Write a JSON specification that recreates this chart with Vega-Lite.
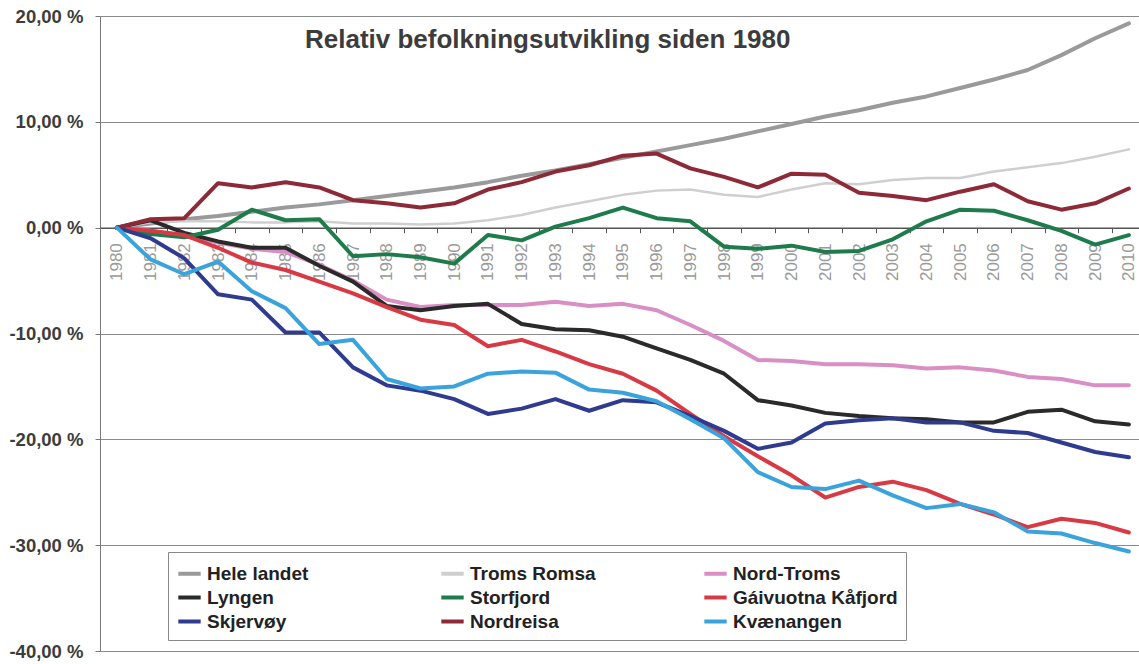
{
  "$schema": "https://vega.github.io/schema/vega-lite/v6.json",
  "autosize": "none",
  "width": 1039,
  "height": 635,
  "padding": {"left": 100, "top": 16, "right": 0, "bottom": 13},
  "background": "#ffffff",
  "title": {
    "text": "Relativ befolkningsutvikling siden 1980",
    "anchor": "start",
    "frame": "group",
    "dx": 205,
    "dy": 50,
    "fontSize": 26,
    "font": "Liberation Sans",
    "fontWeight": "bold",
    "color": "#3c3c3c"
  },
  "config": {"view": {"stroke": null}},
  "data": {
    "values": [
      {"year":1980,"series":"Hele landet","value":0},{"year":1981,"series":"Hele landet","value":0.4},{"year":1982,"series":"Hele landet","value":0.8},{"year":1983,"series":"Hele landet","value":1.1},{"year":1984,"series":"Hele landet","value":1.5},{"year":1985,"series":"Hele landet","value":1.9},{"year":1986,"series":"Hele landet","value":2.2},{"year":1987,"series":"Hele landet","value":2.6},{"year":1988,"series":"Hele landet","value":3.0},{"year":1989,"series":"Hele landet","value":3.4},{"year":1990,"series":"Hele landet","value":3.8},{"year":1991,"series":"Hele landet","value":4.3},{"year":1992,"series":"Hele landet","value":4.9},{"year":1993,"series":"Hele landet","value":5.4},{"year":1994,"series":"Hele landet","value":6.0},{"year":1995,"series":"Hele landet","value":6.6},{"year":1996,"series":"Hele landet","value":7.2},{"year":1997,"series":"Hele landet","value":7.8},{"year":1998,"series":"Hele landet","value":8.4},{"year":1999,"series":"Hele landet","value":9.1},{"year":2000,"series":"Hele landet","value":9.8},{"year":2001,"series":"Hele landet","value":10.5},{"year":2002,"series":"Hele landet","value":11.1},{"year":2003,"series":"Hele landet","value":11.8},{"year":2004,"series":"Hele landet","value":12.4},{"year":2005,"series":"Hele landet","value":13.2},{"year":2006,"series":"Hele landet","value":14.0},{"year":2007,"series":"Hele landet","value":14.9},{"year":2008,"series":"Hele landet","value":16.3},{"year":2009,"series":"Hele landet","value":17.9},{"year":2010,"series":"Hele landet","value":19.3},
      {"year":1980,"series":"Troms Romsa","value":0},{"year":1981,"series":"Troms Romsa","value":0.5},{"year":1982,"series":"Troms Romsa","value":0.6},{"year":1983,"series":"Troms Romsa","value":0.6},{"year":1984,"series":"Troms Romsa","value":0.5},{"year":1985,"series":"Troms Romsa","value":0.5},{"year":1986,"series":"Troms Romsa","value":0.6},{"year":1987,"series":"Troms Romsa","value":0.4},{"year":1988,"series":"Troms Romsa","value":0.4},{"year":1989,"series":"Troms Romsa","value":0.3},{"year":1990,"series":"Troms Romsa","value":0.4},{"year":1991,"series":"Troms Romsa","value":0.7},{"year":1992,"series":"Troms Romsa","value":1.2},{"year":1993,"series":"Troms Romsa","value":1.9},{"year":1994,"series":"Troms Romsa","value":2.5},{"year":1995,"series":"Troms Romsa","value":3.1},{"year":1996,"series":"Troms Romsa","value":3.5},{"year":1997,"series":"Troms Romsa","value":3.6},{"year":1998,"series":"Troms Romsa","value":3.1},{"year":1999,"series":"Troms Romsa","value":2.9},{"year":2000,"series":"Troms Romsa","value":3.6},{"year":2001,"series":"Troms Romsa","value":4.2},{"year":2002,"series":"Troms Romsa","value":4.1},{"year":2003,"series":"Troms Romsa","value":4.5},{"year":2004,"series":"Troms Romsa","value":4.7},{"year":2005,"series":"Troms Romsa","value":4.7},{"year":2006,"series":"Troms Romsa","value":5.3},{"year":2007,"series":"Troms Romsa","value":5.7},{"year":2008,"series":"Troms Romsa","value":6.1},{"year":2009,"series":"Troms Romsa","value":6.7},{"year":2010,"series":"Troms Romsa","value":7.4},
      {"year":1980,"series":"Nord-Troms","value":0},{"year":1981,"series":"Nord-Troms","value":-0.3},{"year":1982,"series":"Nord-Troms","value":-0.8},{"year":1983,"series":"Nord-Troms","value":-1.4},{"year":1984,"series":"Nord-Troms","value":-2.0},{"year":1985,"series":"Nord-Troms","value":-2.3},{"year":1986,"series":"Nord-Troms","value":-3.5},{"year":1987,"series":"Nord-Troms","value":-5.0},{"year":1988,"series":"Nord-Troms","value":-6.8},{"year":1989,"series":"Nord-Troms","value":-7.5},{"year":1990,"series":"Nord-Troms","value":-7.3},{"year":1991,"series":"Nord-Troms","value":-7.3},{"year":1992,"series":"Nord-Troms","value":-7.3},{"year":1993,"series":"Nord-Troms","value":-7.0},{"year":1994,"series":"Nord-Troms","value":-7.4},{"year":1995,"series":"Nord-Troms","value":-7.2},{"year":1996,"series":"Nord-Troms","value":-7.8},{"year":1997,"series":"Nord-Troms","value":-9.2},{"year":1998,"series":"Nord-Troms","value":-10.7},{"year":1999,"series":"Nord-Troms","value":-12.5},{"year":2000,"series":"Nord-Troms","value":-12.6},{"year":2001,"series":"Nord-Troms","value":-12.9},{"year":2002,"series":"Nord-Troms","value":-12.9},{"year":2003,"series":"Nord-Troms","value":-13.0},{"year":2004,"series":"Nord-Troms","value":-13.3},{"year":2005,"series":"Nord-Troms","value":-13.2},{"year":2006,"series":"Nord-Troms","value":-13.5},{"year":2007,"series":"Nord-Troms","value":-14.1},{"year":2008,"series":"Nord-Troms","value":-14.3},{"year":2009,"series":"Nord-Troms","value":-14.9},{"year":2010,"series":"Nord-Troms","value":-14.9},
      {"year":1980,"series":"Lyngen","value":0},{"year":1981,"series":"Lyngen","value":0.7},{"year":1982,"series":"Lyngen","value":-0.5},{"year":1983,"series":"Lyngen","value":-1.3},{"year":1984,"series":"Lyngen","value":-1.9},{"year":1985,"series":"Lyngen","value":-1.9},{"year":1986,"series":"Lyngen","value":-3.6},{"year":1987,"series":"Lyngen","value":-5.1},{"year":1988,"series":"Lyngen","value":-7.4},{"year":1989,"series":"Lyngen","value":-7.8},{"year":1990,"series":"Lyngen","value":-7.4},{"year":1991,"series":"Lyngen","value":-7.2},{"year":1992,"series":"Lyngen","value":-9.1},{"year":1993,"series":"Lyngen","value":-9.6},{"year":1994,"series":"Lyngen","value":-9.7},{"year":1995,"series":"Lyngen","value":-10.3},{"year":1996,"series":"Lyngen","value":-11.4},{"year":1997,"series":"Lyngen","value":-12.5},{"year":1998,"series":"Lyngen","value":-13.8},{"year":1999,"series":"Lyngen","value":-16.3},{"year":2000,"series":"Lyngen","value":-16.8},{"year":2001,"series":"Lyngen","value":-17.5},{"year":2002,"series":"Lyngen","value":-17.8},{"year":2003,"series":"Lyngen","value":-18.0},{"year":2004,"series":"Lyngen","value":-18.1},{"year":2005,"series":"Lyngen","value":-18.4},{"year":2006,"series":"Lyngen","value":-18.4},{"year":2007,"series":"Lyngen","value":-17.4},{"year":2008,"series":"Lyngen","value":-17.2},{"year":2009,"series":"Lyngen","value":-18.3},{"year":2010,"series":"Lyngen","value":-18.6},
      {"year":1980,"series":"Storfjord","value":0},{"year":1981,"series":"Storfjord","value":-0.6},{"year":1982,"series":"Storfjord","value":-0.9},{"year":1983,"series":"Storfjord","value":-0.2},{"year":1984,"series":"Storfjord","value":1.7},{"year":1985,"series":"Storfjord","value":0.7},{"year":1986,"series":"Storfjord","value":0.8},{"year":1987,"series":"Storfjord","value":-2.7},{"year":1988,"series":"Storfjord","value":-2.5},{"year":1989,"series":"Storfjord","value":-2.8},{"year":1990,"series":"Storfjord","value":-3.4},{"year":1991,"series":"Storfjord","value":-0.7},{"year":1992,"series":"Storfjord","value":-1.2},{"year":1993,"series":"Storfjord","value":0.1},{"year":1994,"series":"Storfjord","value":0.9},{"year":1995,"series":"Storfjord","value":1.9},{"year":1996,"series":"Storfjord","value":0.9},{"year":1997,"series":"Storfjord","value":0.6},{"year":1998,"series":"Storfjord","value":-1.8},{"year":1999,"series":"Storfjord","value":-2.0},{"year":2000,"series":"Storfjord","value":-1.7},{"year":2001,"series":"Storfjord","value":-2.3},{"year":2002,"series":"Storfjord","value":-2.2},{"year":2003,"series":"Storfjord","value":-1.1},{"year":2004,"series":"Storfjord","value":0.6},{"year":2005,"series":"Storfjord","value":1.7},{"year":2006,"series":"Storfjord","value":1.6},{"year":2007,"series":"Storfjord","value":0.7},{"year":2008,"series":"Storfjord","value":-0.3},{"year":2009,"series":"Storfjord","value":-1.6},{"year":2010,"series":"Storfjord","value":-0.7},
      {"year":1980,"series":"Gáivuotna Kåfjord","value":0},{"year":1981,"series":"Gáivuotna Kåfjord","value":-0.3},{"year":1982,"series":"Gáivuotna Kåfjord","value":-0.7},{"year":1983,"series":"Gáivuotna Kåfjord","value":-1.9},{"year":1984,"series":"Gáivuotna Kåfjord","value":-3.3},{"year":1985,"series":"Gáivuotna Kåfjord","value":-4.0},{"year":1986,"series":"Gáivuotna Kåfjord","value":-5.1},{"year":1987,"series":"Gáivuotna Kåfjord","value":-6.2},{"year":1988,"series":"Gáivuotna Kåfjord","value":-7.5},{"year":1989,"series":"Gáivuotna Kåfjord","value":-8.7},{"year":1990,"series":"Gáivuotna Kåfjord","value":-9.2},{"year":1991,"series":"Gáivuotna Kåfjord","value":-11.2},{"year":1992,"series":"Gáivuotna Kåfjord","value":-10.6},{"year":1993,"series":"Gáivuotna Kåfjord","value":-11.7},{"year":1994,"series":"Gáivuotna Kåfjord","value":-12.9},{"year":1995,"series":"Gáivuotna Kåfjord","value":-13.8},{"year":1996,"series":"Gáivuotna Kåfjord","value":-15.4},{"year":1997,"series":"Gáivuotna Kåfjord","value":-17.6},{"year":1998,"series":"Gáivuotna Kåfjord","value":-19.7},{"year":1999,"series":"Gáivuotna Kåfjord","value":-21.6},{"year":2000,"series":"Gáivuotna Kåfjord","value":-23.4},{"year":2001,"series":"Gáivuotna Kåfjord","value":-25.5},{"year":2002,"series":"Gáivuotna Kåfjord","value":-24.5},{"year":2003,"series":"Gáivuotna Kåfjord","value":-24.0},{"year":2004,"series":"Gáivuotna Kåfjord","value":-24.8},{"year":2005,"series":"Gáivuotna Kåfjord","value":-26.1},{"year":2006,"series":"Gáivuotna Kåfjord","value":-27.1},{"year":2007,"series":"Gáivuotna Kåfjord","value":-28.3},{"year":2008,"series":"Gáivuotna Kåfjord","value":-27.5},{"year":2009,"series":"Gáivuotna Kåfjord","value":-27.9},{"year":2010,"series":"Gáivuotna Kåfjord","value":-28.8},
      {"year":1980,"series":"Skjervøy","value":0},{"year":1981,"series":"Skjervøy","value":-1.0},{"year":1982,"series":"Skjervøy","value":-2.9},{"year":1983,"series":"Skjervøy","value":-6.3},{"year":1984,"series":"Skjervøy","value":-6.8},{"year":1985,"series":"Skjervøy","value":-9.9},{"year":1986,"series":"Skjervøy","value":-9.9},{"year":1987,"series":"Skjervøy","value":-13.2},{"year":1988,"series":"Skjervøy","value":-14.9},{"year":1989,"series":"Skjervøy","value":-15.4},{"year":1990,"series":"Skjervøy","value":-16.2},{"year":1991,"series":"Skjervøy","value":-17.6},{"year":1992,"series":"Skjervøy","value":-17.1},{"year":1993,"series":"Skjervøy","value":-16.2},{"year":1994,"series":"Skjervøy","value":-17.3},{"year":1995,"series":"Skjervøy","value":-16.3},{"year":1996,"series":"Skjervøy","value":-16.5},{"year":1997,"series":"Skjervøy","value":-17.8},{"year":1998,"series":"Skjervøy","value":-19.2},{"year":1999,"series":"Skjervøy","value":-20.9},{"year":2000,"series":"Skjervøy","value":-20.3},{"year":2001,"series":"Skjervøy","value":-18.5},{"year":2002,"series":"Skjervøy","value":-18.2},{"year":2003,"series":"Skjervøy","value":-18.0},{"year":2004,"series":"Skjervøy","value":-18.4},{"year":2005,"series":"Skjervøy","value":-18.4},{"year":2006,"series":"Skjervøy","value":-19.2},{"year":2007,"series":"Skjervøy","value":-19.4},{"year":2008,"series":"Skjervøy","value":-20.3},{"year":2009,"series":"Skjervøy","value":-21.2},{"year":2010,"series":"Skjervøy","value":-21.7},
      {"year":1980,"series":"Nordreisa","value":0},{"year":1981,"series":"Nordreisa","value":0.8},{"year":1982,"series":"Nordreisa","value":0.9},{"year":1983,"series":"Nordreisa","value":4.2},{"year":1984,"series":"Nordreisa","value":3.8},{"year":1985,"series":"Nordreisa","value":4.3},{"year":1986,"series":"Nordreisa","value":3.8},{"year":1987,"series":"Nordreisa","value":2.6},{"year":1988,"series":"Nordreisa","value":2.3},{"year":1989,"series":"Nordreisa","value":1.9},{"year":1990,"series":"Nordreisa","value":2.3},{"year":1991,"series":"Nordreisa","value":3.6},{"year":1992,"series":"Nordreisa","value":4.3},{"year":1993,"series":"Nordreisa","value":5.3},{"year":1994,"series":"Nordreisa","value":5.9},{"year":1995,"series":"Nordreisa","value":6.8},{"year":1996,"series":"Nordreisa","value":7.0},{"year":1997,"series":"Nordreisa","value":5.6},{"year":1998,"series":"Nordreisa","value":4.8},{"year":1999,"series":"Nordreisa","value":3.8},{"year":2000,"series":"Nordreisa","value":5.1},{"year":2001,"series":"Nordreisa","value":5.0},{"year":2002,"series":"Nordreisa","value":3.3},{"year":2003,"series":"Nordreisa","value":3.0},{"year":2004,"series":"Nordreisa","value":2.6},{"year":2005,"series":"Nordreisa","value":3.4},{"year":2006,"series":"Nordreisa","value":4.1},{"year":2007,"series":"Nordreisa","value":2.5},{"year":2008,"series":"Nordreisa","value":1.7},{"year":2009,"series":"Nordreisa","value":2.3},{"year":2010,"series":"Nordreisa","value":3.7},
      {"year":1980,"series":"Kvænangen","value":0},{"year":1981,"series":"Kvænangen","value":-3.0},{"year":1982,"series":"Kvænangen","value":-4.4},{"year":1983,"series":"Kvænangen","value":-3.2},{"year":1984,"series":"Kvænangen","value":-6.0},{"year":1985,"series":"Kvænangen","value":-7.6},{"year":1986,"series":"Kvænangen","value":-11.0},{"year":1987,"series":"Kvænangen","value":-10.6},{"year":1988,"series":"Kvænangen","value":-14.3},{"year":1989,"series":"Kvænangen","value":-15.2},{"year":1990,"series":"Kvænangen","value":-15.0},{"year":1991,"series":"Kvænangen","value":-13.8},{"year":1992,"series":"Kvænangen","value":-13.6},{"year":1993,"series":"Kvænangen","value":-13.7},{"year":1994,"series":"Kvænangen","value":-15.3},{"year":1995,"series":"Kvænangen","value":-15.6},{"year":1996,"series":"Kvænangen","value":-16.4},{"year":1997,"series":"Kvænangen","value":-18.1},{"year":1998,"series":"Kvænangen","value":-19.9},{"year":1999,"series":"Kvænangen","value":-23.1},{"year":2000,"series":"Kvænangen","value":-24.5},{"year":2001,"series":"Kvænangen","value":-24.7},{"year":2002,"series":"Kvænangen","value":-23.9},{"year":2003,"series":"Kvænangen","value":-25.3},{"year":2004,"series":"Kvænangen","value":-26.5},{"year":2005,"series":"Kvænangen","value":-26.1},{"year":2006,"series":"Kvænangen","value":-26.9},{"year":2007,"series":"Kvænangen","value":-28.7},{"year":2008,"series":"Kvænangen","value":-28.9},{"year":2009,"series":"Kvænangen","value":-29.8},{"year":2010,"series":"Kvænangen","value":-30.6}
    ]
  },
  "mark": {"type": "line", "strokeJoin": "round", "strokeCap": "round"},
  "encoding": {
    "x": {
      "field": "year",
      "type": "quantitative",
      "scale": {"domain": [1979.5, 2010.3], "nice": false, "zero": false},
      "axis": {
        "title": null,
        "orient": "bottom",
        "offset": -423.33,
        "values": [1980,1981,1982,1983,1984,1985,1986,1987,1988,1989,1990,1991,1992,1993,1994,1995,1996,1997,1998,1999,2000,2001,2002,2003,2004,2005,2006,2007,2008,2009,2010],
        "format": "d",
        "labelAngle": -90,
        "labelFont": "Liberation Sans",
        "labelFontSize": 17,
        "labelColor": "#9a9a9a",
        "labelPadding": 10,
        "labelFlush": false,
        "labelOverlap": false,
        "tickOffset": 16.85,
        "labelOffset": -16.85,
        "tickSize": 5,
        "tickColor": "#555555",
        "domainColor": "#555555",
        "domainWidth": 1.5,
        "grid": false
      }
    },
    "y": {
      "field": "value",
      "type": "quantitative",
      "scale": {"domain": [-40, 20], "nice": false},
      "axis": {
        "title": null,
        "values": [-40, -30, -20, -10, 0, 10, 20],
        "labelExpr": "datum.value + ',00 %'",
        "labelFont": "Liberation Sans",
        "labelFontSize": 18.5,
        "labelFontWeight": "bold",
        "labelColor": "#3c3c3c",
        "labelPadding": 12,
        "tickSize": 5,
        "tickColor": "#777777",
        "domainColor": "#777777",
        "grid": true,
        "gridColor": "#8a8a8a",
        "gridWidth": 1
      }
    },
    "color": {
      "field": "series",
      "type": "nominal",
      "scale": {
        "domain": ["Hele landet", "Troms Romsa", "Nord-Troms", "Lyngen", "Storfjord", "Gáivuotna Kåfjord", "Skjervøy", "Nordreisa", "Kvænangen"],
        "range": ["#9a9a9a", "#cfcfcf", "#d98fc4", "#2a2a2a", "#1e7b4b", "#d83a45", "#2f3b8f", "#8e2a38", "#3ba3dc"]
      },
      "legend": {
        "title": null,
        "orient": "none",
        "legendX": 68,
        "legendY": 536,
        "direction": "horizontal",
        "columns": 3,
        "gridAlign": "all",
        "columnPadding": 61,
        "rowPadding": 0,
        "padding": 8,
        "strokeColor": "#888888",
        "fillColor": "#ffffff",
        "symbolType": "stroke",
        "symbolSize": 500,
        "symbolStrokeWidth": 4,
        "labelFont": "Liberation Sans",
        "labelFontSize": 19,
        "labelFontWeight": "bold",
        "labelColor": "#222222",
        "labelOffset": 4,
        "labelLimit": 300
      }
    },
    "strokeWidth": {
      "condition": {"test": "datum.series === 'Troms Romsa'", "value": 2.5},
      "value": 4
    }
  }
}
